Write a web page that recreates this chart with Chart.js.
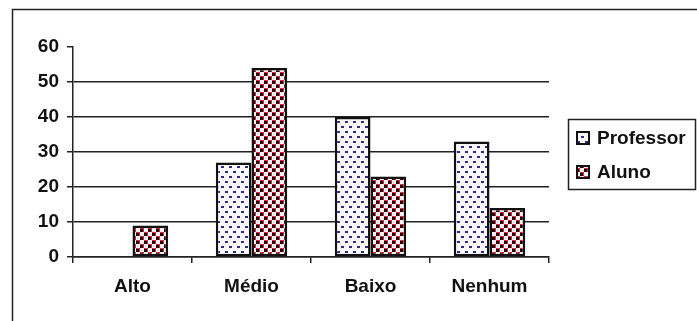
<!DOCTYPE html>
<html>
<head>
<meta charset="utf-8">
<script src="https://cdn.jsdelivr.net/npm/chart.js@4/dist/chart.umd.min.js"></script>
<style>
  html, body { margin: 0; padding: 0; background: #fff; }
  #wrap { width: 697px; height: 321px; position: relative; }
</style>
</head>
<body>
<div id="wrap"><canvas id="chart"></canvas></div>
<script>
const categories = ["Alto", "Médio", "Baixo", "Nenhum"];
const professor = [0, 27, 40, 33];
const aluno = [9, 54, 23, 14];
const yTicks = [0, 10, 20, 30, 40, 50, 60];

// dotted pattern for Professor
function dotPattern() {
  const c = document.createElement("canvas");
  c.width = 8; c.height = 10;
  const g = c.getContext("2d");
  g.fillStyle = "#fbf9ff";
  g.fillRect(0, 0, 8, 10);
  g.fillStyle = "#2e2a88";
  g.fillRect(1, 1, 3, 2);
  g.fillRect(5, 6, 3, 2);
  return g.createPattern(c, "repeat");
}

// checker pattern for Aluno
function checkPattern() {
  const c = document.createElement("canvas");
  c.width = 8; c.height = 8;
  const g = c.getContext("2d");
  g.fillStyle = "#fcf0f2";
  g.fillRect(0, 0, 8, 8);
  g.fillStyle = "#d22c3e";
  g.fillRect(0, 0, 4, 4);
  g.fillRect(4, 4, 4, 4);
  g.fillStyle = "#1c0608";
  g.fillRect(0, 1, 3, 3);
  g.fillRect(4, 5, 3, 3);
  return g.createPattern(c, "repeat");
}

const font = "'Liberation Sans', Arial, sans-serif";

const frame = {
  id: "frame",
  beforeDraw(chart) {
    const ctx = chart.ctx;
    ctx.save();
    ctx.fillStyle = "#fff";
    ctx.fillRect(0, 0, chart.width, chart.height);
    ctx.strokeStyle = "#222";
    ctx.lineWidth = 1.5;
    ctx.beginPath();
    ctx.moveTo(12.5, chart.height);
    ctx.lineTo(12.5, 9.5);
    ctx.lineTo(chart.width, 9.5);
    ctx.stroke();
    ctx.restore();
  },
  afterDraw(chart) {
    // legend box
    const ctx = chart.ctx;
    ctx.save();
    ctx.strokeStyle = "#222";
    ctx.lineWidth = 1.5;
    ctx.strokeRect(568.5, 119.5, 127, 70);
    ctx.font = "bold 19px " + font;
    ctx.textBaseline = "middle";
    chart.data.datasets.forEach((ds, i) => {
      const y = 138 + i * 34;
      ctx.fillStyle = ds.backgroundColor;
      ctx.fillRect(577, y - 6, 12, 12);
      ctx.lineWidth = 2;
      ctx.strokeStyle = "#111";
      ctx.strokeRect(577, y - 6, 12, 12);
      ctx.fillStyle = "#111";
      ctx.fillText(ds.label, 597, y + 1);
    });
    ctx.restore();
  }
};

new Chart(document.getElementById("chart"), {
  type: "bar",
  data: {
    labels: categories,
    datasets: [
      {
        label: "Professor",
        data: professor,
        backgroundColor: dotPattern(),
        borderColor: "#111",
        borderWidth: 2.5,
        borderSkipped: false,
      },
      {
        label: "Aluno",
        data: aluno,
        backgroundColor: checkPattern(),
        borderColor: "#111",
        borderWidth: 2.5,
        borderSkipped: false,
      },
    ],
  },
  options: {
    responsive: true,
    maintainAspectRatio: false,
    animation: false,
    categoryPercentage: 0.6,
    barPercentage: 1.0,
    layout: { padding: { left: 0, right: 148, top: 47, bottom: 0 } },
    plugins: {
      legend: { display: false },
      tooltip: { enabled: false },
    },
    scales: {
      x: {
        offset: true,
        grid: {
          offset: true,
          drawOnChartArea: false,
          tickLength: 6,
          color: "#222",
          lineWidth: 1.5,
        },
        border: { color: "#222", width: 1.5 },
        ticks: {
          color: "#111",
          padding: 12,
          font: { family: font, size: 19, weight: "bold" },
        },
        afterFit(scale) { scale.height = 64; },
      },
      y: {
        min: 0,
        max: 60,
        afterBuildTicks(scale) {
          scale.ticks = yTicks.map((v) => ({ value: v }));
        },
        grid: {
          color: (c) => (c.tick && c.tick.value === 60 ? "rgba(0,0,0,0)" : "#222"),
          tickColor: "#222",
          lineWidth: 1.5,
          tickLength: 6,
        },
        border: { color: "#222", width: 1.5 },
        ticks: {
          color: "#111",
          padding: 8,
          font: { family: font, size: 19, weight: "bold" },
        },
        afterFit(scale) { scale.width = 73; },
      },
    },
  },
  plugins: [frame],
});
</script>
</body>
</html>
